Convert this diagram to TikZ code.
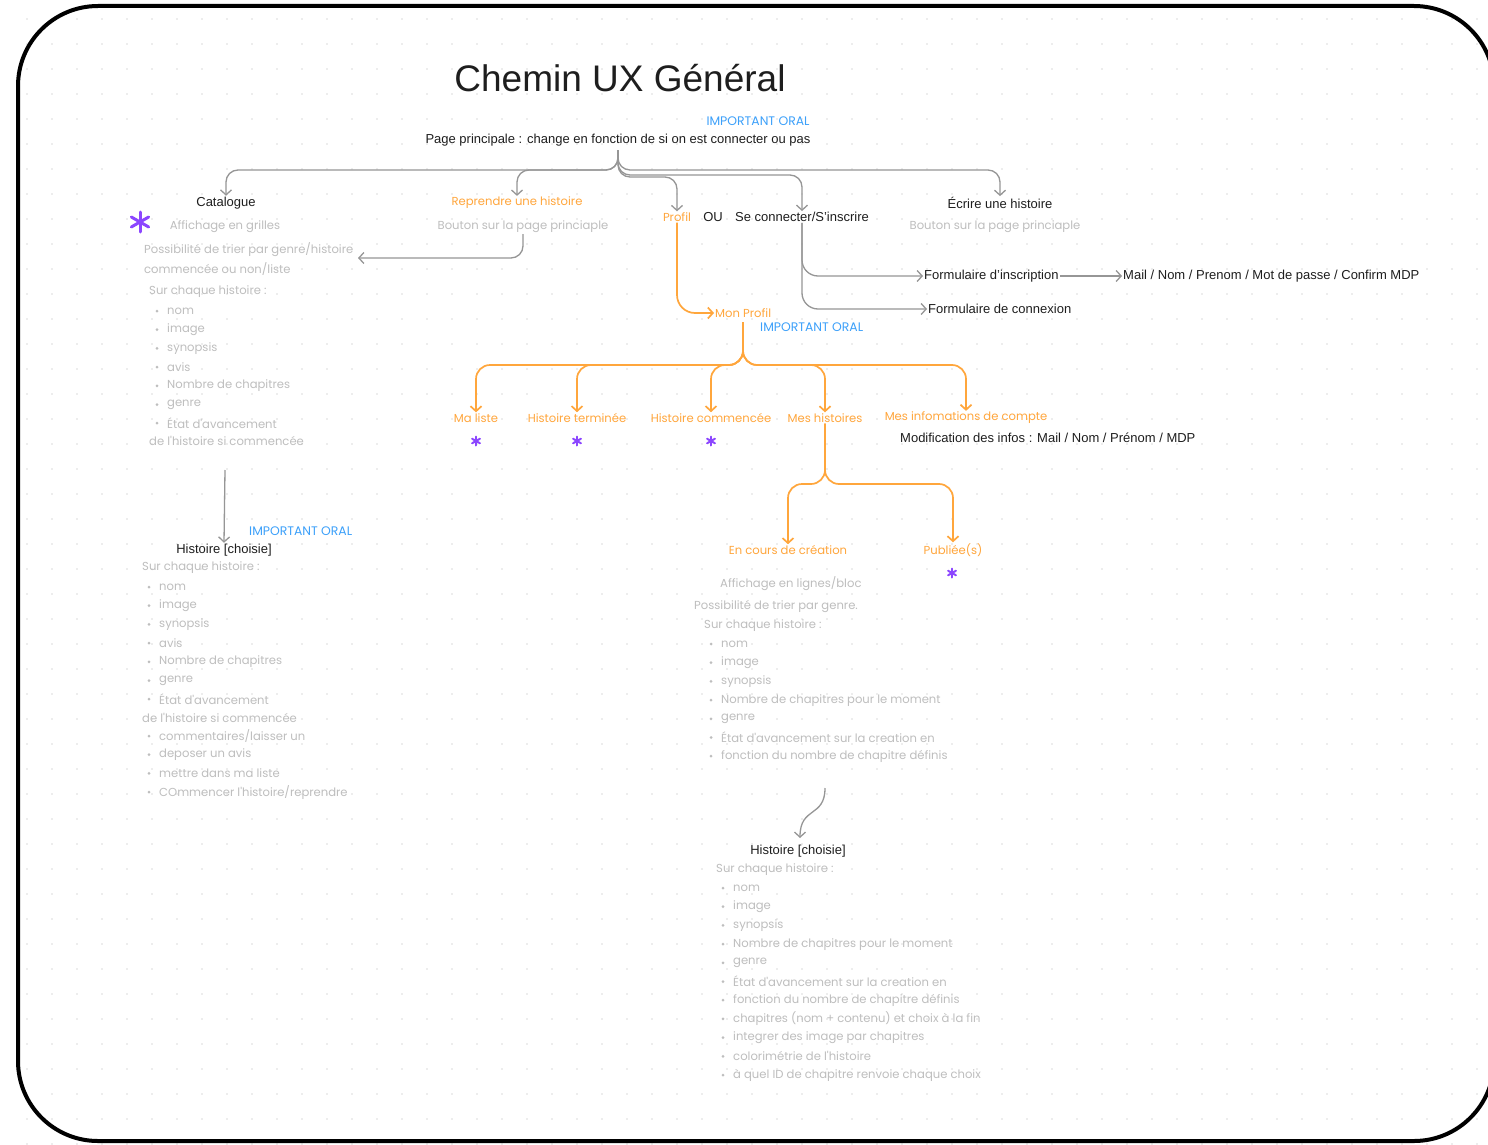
\documentclass[tikz,border=0pt]{standalone}
\usepackage{fontspec}
\setmainfont{Liberation Sans}
\newfontfamily\pop{Poppins}
\usetikzlibrary{arrows.meta}
\definecolor{ora}{RGB}{255,166,60}
\definecolor{blu}{RGB}{60,160,250}
\definecolor{pur}{RGB}{140,70,255}
\definecolor{gry}{RGB}{190,190,190}
\definecolor{gcol}{RGB}{150,150,150}
\definecolor{blk}{RGB}{30,30,30}
\newcommand{\mylist}[4]{%
  \foreach \t [count=\i] in {#4} {%
    \fill[gry] (#1, {#2+18.7*(\i-1)}) circle (1.5pt);
    \node[gtxt, anchor=west] (#3\i) at ({#1+9}, {#2+18.7*(\i-1)}) {\t};
  }}
\newcommand{\myast}[4]{% x y radius width
  \foreach \a in {0,60,120} {
    \draw[pur, line width=#4, line cap=round] ({#1+#3*cos(\a+90)},{#2+#3*sin(\a+90)}) -- ({#1-#3*cos(\a+90)},{#2-#3*sin(\a+90)});
  }}
\begin{document}
\begin{tikzpicture}[x=1pt,y=-1pt,
  btxt/.style={font=\fontsize{13}{15}\selectfont, text=blk, inner sep=1pt},
  gtxt/.style={font=\pop\fontsize{11.6}{13}\selectfont, text=gry, inner sep=1pt},
  otxt/.style={font=\pop\fontsize{11.6}{13}\selectfont, text=ora, inner sep=1pt},
  itxt/.style={font=\pop\fontsize{12.4}{14}\selectfont, text=blu, inner sep=1pt},
  gcon/.style={draw=gcol, line width=1.3pt, rounded corners=12pt, -{Straight Barb[length=5pt,width=11pt]}},
  ocon/.style={draw=ora, line width=1.7pt, rounded corners=14pt, -{Straight Barb[length=5pt,width=11pt]}},
]
\useasboundingbox (0,0) rectangle (1488,1145);
\fill[white] (0,0) rectangle (1488,1145);
% grid dots
\foreach \gx in {27,52,...,1477} {
  \foreach \gy in {19,44,...,1144} {
    \fill[black!14] (\gx,\gy) circle (0.9pt);
  }}
% frame
\draw[black, line width=4pt, rounded corners=80pt] (18,6) rectangle (1494,1141);

% title and top
\node[font=\fontsize{37}{40}\selectfont, text=blk] (title) at (620,78) {Chemin UX Général};
\node[itxt] (imp1) at (758,121) {IMPORTANT ORAL};
\node[btxt] (pp) at (618,140) {Page principale : change en fonction de si on est connecter ou pas};

% level 1
\node[btxt] (cat) at (226,203) {Catalogue};
\node[otxt] (rep) at (517,203) {Reprendre une histoire};
\node[gtxt] (repb) at (523,227) {Bouton sur la page princiaple};
\node[otxt] (prof) at (677,217) {Profil};
\node[btxt] (ou) at (713,217) {OU};
\node[btxt] (sec) at (802,217) {Se connecter/S'inscrire};
\node[btxt] (ecr) at (1000,203) {Écrire une histoire};
\node[gtxt] (ecrb) at (995,227) {Bouton sur la page princiaple};

\coordinate (ppt) at (618,150);
\draw[gcon] (ppt) |- (cat.north |- 0,170) -- (cat.north);
\draw[gcon] (ppt) |- (ecr.north |- 0,170) -- (ecr.north);
\draw[gcon] (ppt) |- (rep.north |- 0,170) -- (rep.north);
\draw[gcon] (ppt) |- (prof.north |- 0,177) -- (prof.north);
\draw[gcon] (ppt) |- (sec.north |- 0,175) -- (sec.north);

% catalogue
\myast{140}{222}{10}{3pt}
\node[gtxt] (aff) at (225,227) {Affichage en grilles};
\node[gtxt, anchor=west] (pos1) at (143,250) {Possibilité de trier par genre/histoire};
\node[gtxt, anchor=west] (pos2) at (143,269) {commencée ou non/liste};
\coordinate (posend) at (358,258);
\draw[gcon] (repb.south) |- (posend);
\node[gtxt, anchor=west] (sch1) at (148,292) {Sur chaque histoire :};
\mylist{157}{311}{la}{nom, image, synopsis, avis, Nombre de chapitres, genre, État d'avancement}
\node[gtxt, anchor=west] (dlh1) at (148,441) {de l'histoire si commencée};

\coordinate (c1) at (225,470);
\node[itxt, anchor=west] (imp2) at (248,531) {IMPORTANT ORAL};
\node[btxt] (hist1) at (224,550) {Histoire [choisie]};
\draw[gcon] (c1) -- (hist1.north);
\node[gtxt, anchor=west] (sch2) at (141,568) {Sur chaque histoire :};
\mylist{149}{587}{lb}{nom, image, synopsis, avis, Nombre de chapitres, genre, État d'avancement}
\node[gtxt, anchor=west] (dlh2) at (141,718) {de l'histoire si commencée};
\mylist{149}{736}{lc}{commentaires/laisser un, deposer un avis, mettre dans ma liste, COmmencer l'histoire/reprendre}

% connexion
\node[btxt, anchor=west] (finsc) at (923,276) {Formulaire d'inscription};
\node[btxt, anchor=west] (mail) at (1122,276) {Mail / Nom / Prenom / Mot de passe / Confirm MDP};
\node[btxt, anchor=west] (fconn) at (927,309) {Formulaire de connexion};
\draw[gcon, rounded corners=16pt] (sec.south) |- (finsc.west);
\draw[gcon, rounded corners=16pt] (sec.south) |- (fconn.west);
\draw[gcon] (finsc.east) -- (mail.west);

% profil
\node[otxt, anchor=west] (monp) at (714,313) {Mon Profil};
\node[itxt, anchor=west] (imp3) at (759,327) {IMPORTANT ORAL};
\draw[ocon, rounded corners=18pt] (prof.south) |- (monp.west);

\node[otxt] (mal) at (476,418) {Ma liste};
\node[otxt] (hte) at (577,418) {Histoire terminée};
\node[otxt] (hco) at (711,418) {Histoire commencée};
\node[otxt] (mes) at (825,418) {Mes histoires};
\node[otxt] (mic) at (966,418) {Mes infomations de compte};
\node[btxt, anchor=west] (modif) at (899,438) {Modification des infos : Mail / Nom / Prénom / MDP};
\coordinate (ot) at (743,322);
\foreach \n in {mal,hte,hco,mes,mic} {
  \draw[ocon] (ot) |- (\n.north |- 0,365) -- (\n.north);
}
\myast{476}{441}{4.5}{2pt}
\myast{577}{441}{4.5}{2pt}
\myast{711}{441}{4.5}{2pt}

% mes histoires
\node[otxt] (enc) at (788,550) {En cours de création};
\node[otxt] (pub) at (953,550) {Publiée(s)};
\draw[ocon] (mes.south) |- (enc.north |- 0,484) -- (enc.north);
\draw[ocon] (mes.south) |- (pub.north |- 0,484) -- (pub.north);
\myast{952}{573}{4.5}{2pt}

\node[gtxt, anchor=west] (aff2) at (719,584) {Affichage en lignes/bloc};
\node[gtxt, anchor=west] (pos3) at (693,607) {Possibilité de trier par genre.};
\node[gtxt, anchor=west] (sch3) at (703,626) {Sur chaque histoire :};
\mylist{711}{644}{ld}{nom, image, synopsis, Nombre de chapitres pour le moment, genre, État d'avancement sur la creation en, fonction du nombre de chapitre définis}

\coordinate (w1) at (825,788);
\node[btxt] (hist3) at (798,851) {Histoire [choisie]};
\draw[gcon] (w1) .. controls (825,818) and (800,806) .. (800,838);
\node[gtxt, anchor=west] (sch4) at (715,870) {Sur chaque histoire :};
\mylist{723}{888}{le}{nom, image, synopsis, Nombre de chapitres pour le moment, genre, État d'avancement sur la creation en, fonction du nombre de chapitre définis, chapitres (nom + contenu) et choix à la fin, integrer des image par chapitres, colorimétrie de l'histoire, à quel ID de chapitre renvoie chaque choix}
\end{tikzpicture}
\end{document}
